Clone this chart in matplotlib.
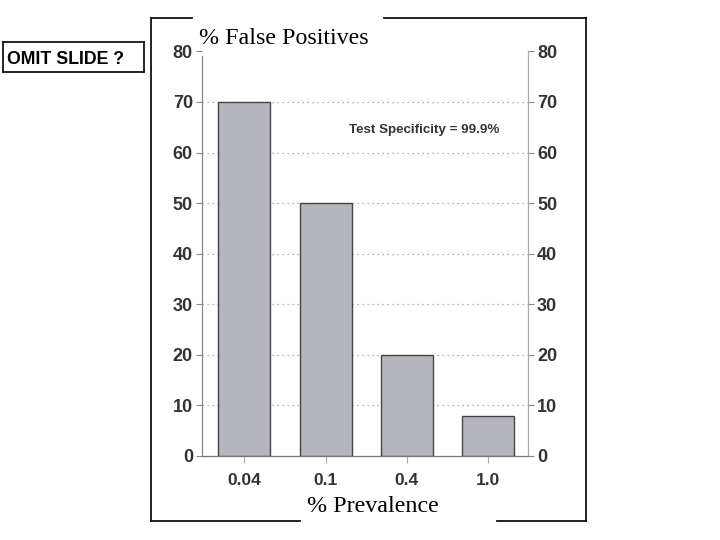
import matplotlib
matplotlib.use("Agg")
import matplotlib.pyplot as plt
from matplotlib.lines import Line2D

categories = ["0.04", "0.1", "0.4", "1.0"]
false_pos = [70, 50, 20, 8]
yticks = [0, 10, 20, 30, 40, 50, 60, 70, 80]
grid_levels = [10, 20, 30, 40, 50, 60, 70]

W, H = 720, 540
fig = plt.figure(figsize=(7.2, 5.4), dpi=100)
fig.patch.set_facecolor("white")

def fx(px):
    return px / W

def fy(py):
    return 1 - py / H

# outer frame with gaps for the title/xlabel
frame_col = "#111111"
segs = [
    ((151, 18), (192, 18)), ((384, 18), (586, 18)),
    ((586, 18), (586, 521)),
    ((151, 521), (300, 521)), ((497, 521), (586, 521)),
    ((151, 18), (151, 521)),
]
for (x0, y0), (x1, y1) in segs:
    fig.add_artist(Line2D([fx(x0), fx(x1)], [fy(y0), fy(y1)], color=frame_col, lw=1.3,
                          transform=fig.transFigure))

ax = fig.add_axes([fx(202), fy(456), fx(528) - fx(202), fy(51.4) - fy(456)])
x = list(range(len(categories)))
ax.bar(x, false_pos, width=0.64, color="#b5b5bd", edgecolor="#444444", linewidth=1.0, zorder=3)
for g in grid_levels:
    ax.axhline(g, color="#9a9a9a", lw=0.9, ls=(0, (1, 3)), zorder=1)
ax.set_xlim(-0.52, 3.49)
ax.set_ylim(0, 80)
ax.set_yticks(yticks)
ax.set_xticks(x)
ax.set_xticklabels(categories)
ax.spines["top"].set_visible(False)
ax.spines["left"].set_color("#888888")
ax.spines["right"].set_color("#aaaaaa")
ax.spines["left"].set_linewidth(0.9)
ax.spines["right"].set_linewidth(0.9)
ax.spines["bottom"].set_color("#777777")
ax.spines["bottom"].set_linewidth(0.9)
ax.spines["left"].set_bounds(0, 79)
ax.tick_params(axis="y", which="both", left=True, right=True, labelleft=True, labelright=True,
               length=4.5, width=0.8, color="#888888", labelsize=13, labelcolor="#333333", pad=2)
ax.tick_params(axis="x", length=5, width=0.8, color="#aaaaaa", labelsize=12.5,
               labelcolor="#333333", pad=7.5)
for lab in ax.get_yticklabels() + ax.get_xticklabels():
    lab.set_fontweight("bold")
    lab.set_family("Liberation Sans")

ax.text(0.452, 0.805, "Test Specificity = 99.9%", transform=ax.transAxes,
        fontsize=9.6, fontweight="bold", color="#333333", family="Liberation Sans", va="center")

fig.text(fx(199), fy(38), "% False Positives", family="Liberation Serif", fontsize=17.3,
         va="center", ha="left", color="black")
fig.text(fx(372.5), fy(506), "% Prevalence", family="Liberation Serif", fontsize=17.3,
         va="center", ha="center", color="black")

# OMIT SLIDE box
for (x0, y0), (x1, y1) in [((3, 42), (144, 42)), ((144, 42), (144, 72)),
                           ((144, 72), (3, 72)), ((3, 72), (3, 42))]:
    fig.add_artist(Line2D([fx(x0), fx(x1)], [fy(y0), fy(y1)], color="black", lw=1.2,
                          transform=fig.transFigure))
fig.text(fx(7), fy(59), "OMIT SLIDE ?", family="Liberation Sans", fontweight="bold",
         fontsize=12.8, ha="left", va="center", color="black")

fig.savefig("out.png", dpi=100, facecolor="white")
